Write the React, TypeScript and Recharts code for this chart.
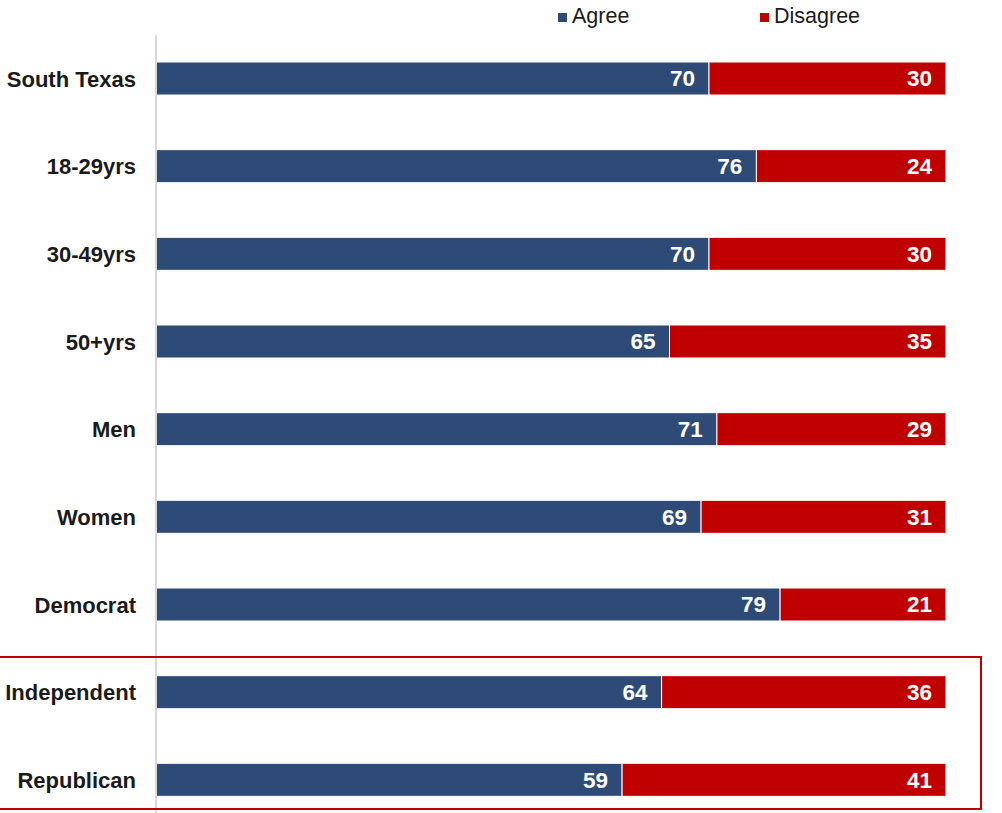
import React from "react";
import { BarChart, Bar, XAxis, YAxis, LabelList } from "recharts";

const categories = ["South Texas", "18-29yrs", "30-49yrs", "50+yrs", "Men", "Women", "Democrat", "Independent", "Republican"];
const agree = [70, 76, 70, 65, 71, 69, 79, 64, 59];
const disagree = [30, 24, 30, 35, 29, 31, 21, 36, 41];

const BLUE = "#2E4B78";
const RED = "#C00000";
const FONT = "'Liberation Sans', Arial, sans-serif";

const data = categories.map((c, i) => ({ name: c, Agree: agree[i], Disagree: disagree[i] }));

const LegendBox = () => (
  <div style={{ position: "absolute", left: 0, top: 0, width: 1002, height: 34, fontFamily: FONT, fontSize: 21.5, color: "#1a1a1a" }}>
    <div style={{ position: "absolute", left: 558, top: 13, width: 9, height: 9, background: BLUE }} />
    <div style={{ position: "absolute", left: 572, top: 3, lineHeight: "26px" }}>Agree</div>
    <div style={{ position: "absolute", left: 760, top: 13, width: 9, height: 9, background: RED }} />
    <div style={{ position: "absolute", left: 774, top: 3, lineHeight: "26px" }}>Disagree</div>
  </div>
);

export default function App() {
  return (
    <div style={{ position: "absolute", left: 0, top: 0, width: 1002, height: 813, overflow: "hidden", background: "#fff" }}>
      <BarChart
        layout="vertical"
        width={1002}
        height={832}
        data={data}
        margin={{ top: 35, right: 56, bottom: 8, left: 0 }}
      >
        <XAxis type="number" domain={[0, 100]} hide />
        <YAxis
          type="category"
          dataKey="name"
          width={156}
          tickLine={false}
          tickSize={0}
          tickMargin={20}
          axisLine={{ stroke: "#D9D9D9", strokeWidth: 2 }}
          tick={{ fill: "#1a1a1a", fontSize: 22, fontWeight: 700, fontFamily: FONT }}
          interval={0}
        />
        <Bar dataKey="Agree" stackId="a" fill={BLUE} stroke="#fff" strokeWidth={1} barSize={33} isAnimationActive={false}>
          <LabelList dataKey="Agree" position="insideRight" offset={14} fill="#fff" fontSize={22.5} fontWeight={700} fontFamily={FONT} />
        </Bar>
        <Bar dataKey="Disagree" stackId="a" fill={RED} stroke="#fff" strokeWidth={1} barSize={33} isAnimationActive={false}>
          <LabelList dataKey="Disagree" position="insideRight" offset={14} fill="#fff" fontSize={22.5} fontWeight={700} fontFamily={FONT} />
        </Bar>
      </BarChart>
      <LegendBox />
      <div style={{ position: "absolute", left: -2, top: 656, width: 980, height: 150, border: `2px solid ${RED}`, boxSizing: "content-box" }} />
    </div>
  );
}
